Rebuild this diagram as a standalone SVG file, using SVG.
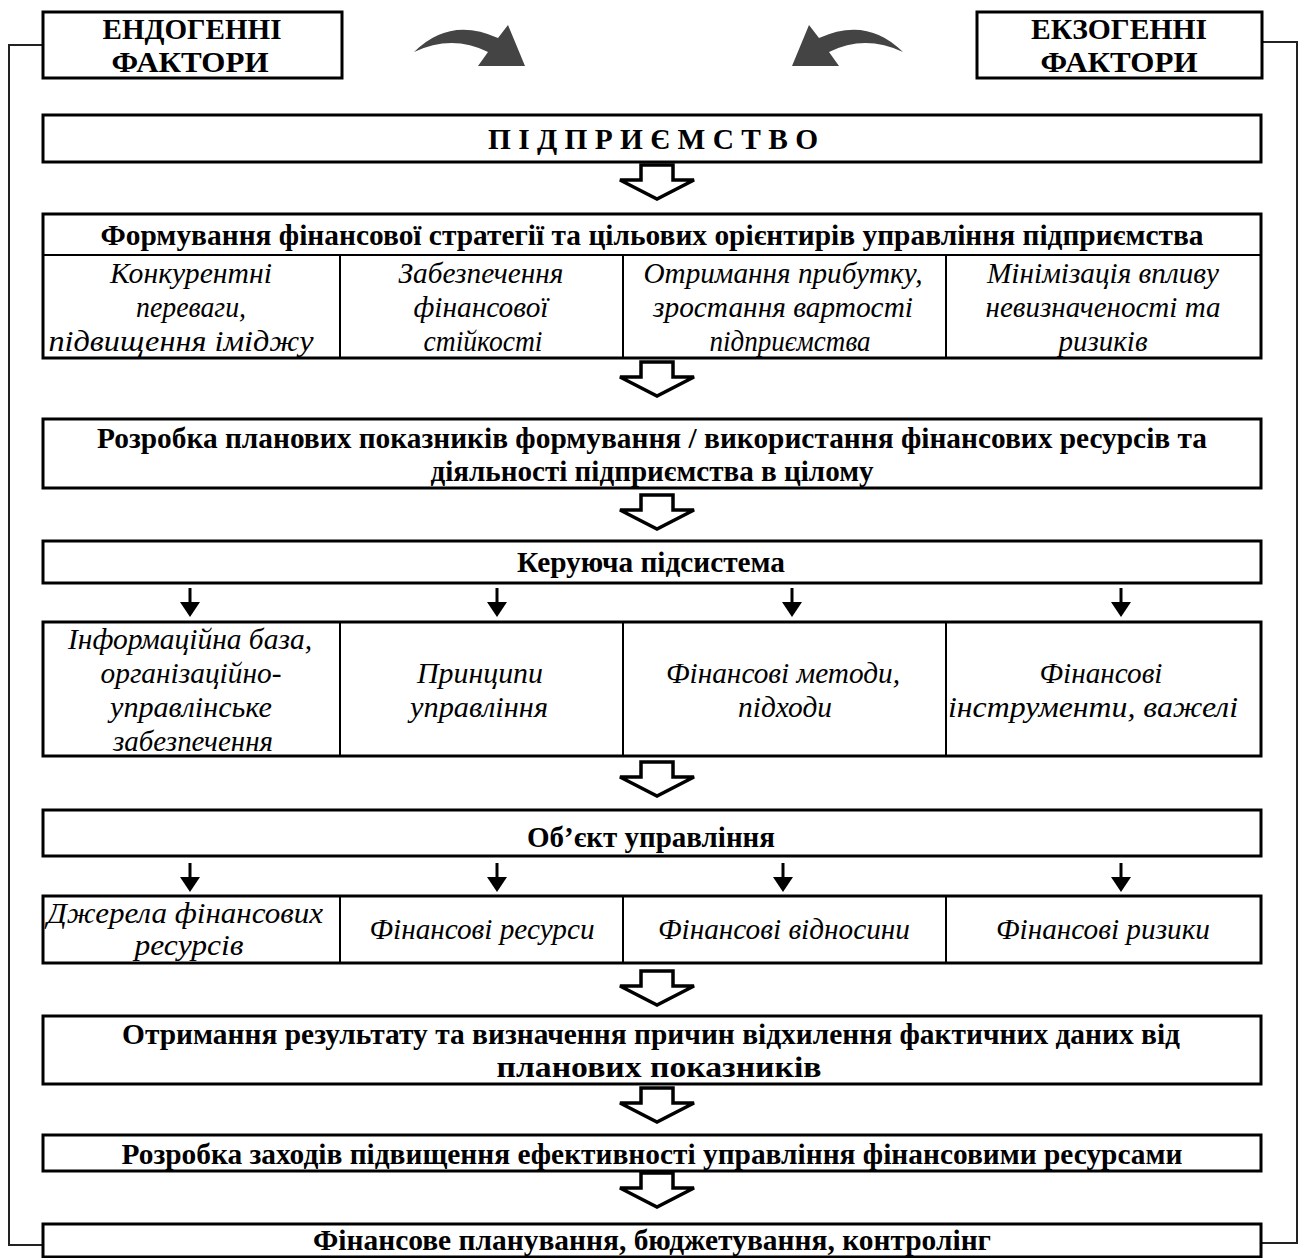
<svg xmlns="http://www.w3.org/2000/svg" width="1304" height="1258" viewBox="0 0 1304 1258">
<style>
  .box { fill: #fff; stroke: #000; stroke-width: 3; }
  .sep { stroke: #000; stroke-width: 2; fill: none; }
  .fb { stroke: #222; stroke-width: 2; fill: none; }
  .b { font-family: "Liberation Serif", "Times New Roman", serif; font-size: 29px; font-weight: bold; text-anchor: middle; fill: #000; }
  .i { font-family: "Liberation Serif", "Times New Roman", serif; font-size: 30px; font-style: italic; text-anchor: middle; fill: #000; }
  .ha { fill: #fff; stroke: #000; stroke-width: 3.5; stroke-linejoin: miter; }
  .sa { fill: #000; stroke: none; }
  .sl { stroke: #000; stroke-width: 3; }
  .curv { fill: #444; }
</style>
<defs>
  <path id="hollow" class="ha" d="M-16,-34 H16 V-19 H37 L0,0 L-37,-19 H-16 Z"/>
  <g id="small">
    <line class="sl" x1="0" y1="-29" x2="0" y2="-12"/>
    <path class="sa" d="M-10,-15 L10,-15 L0,0 Z"/>
  </g>
  <path id="curve" class="curv" d="M414,52 Q450,16 498,38 L508,25 L525,66 L478,66 L488,52 Q452,34 414,52 Z"/>
</defs>

<g id="connectors">
  <polyline class="fb" points="43,45 9,45 9,1245 43,1245"/>
  <polyline class="fb" points="1262,42 1297,42 1297,1243 1261,1243"/>
  <use href="#curve"/>
  <use href="#curve" transform="translate(1317,0) scale(-1,1)"/>
  <use href="#hollow" x="657" y="199"/>
  <use href="#hollow" x="657" y="396"/>
  <use href="#hollow" x="657" y="529"/>
  <use href="#hollow" x="657" y="796"/>
  <use href="#hollow" x="657" y="1005"/>
  <use href="#hollow" x="657" y="1122"/>
  <use href="#hollow" x="657" y="1207"/>
  <use href="#small" x="190" y="617"/>
  <use href="#small" x="497" y="617"/>
  <use href="#small" x="792" y="617"/>
  <use href="#small" x="1121" y="617"/>
  <use href="#small" x="190" y="892"/>
  <use href="#small" x="497" y="892"/>
  <use href="#small" x="783" y="892"/>
  <use href="#small" x="1121" y="892"/>
</g>

<g id="endo">
  <rect class="box" x="43" y="12" width="299" height="66"/>
  <text class="b" x="192" y="39" textLength="179" lengthAdjust="spacingAndGlyphs">ЕНДОГЕННІ</text>
  <text class="b" x="190" y="72" textLength="157" lengthAdjust="spacingAndGlyphs">ФАКТОРИ</text>
</g>

<g id="exo">
  <rect class="box" x="977" y="12" width="285" height="66"/>
  <text class="b" x="1119" y="39" textLength="176" lengthAdjust="spacingAndGlyphs">ЕКЗОГЕННІ</text>
  <text class="b" x="1119" y="72" textLength="157" lengthAdjust="spacingAndGlyphs">ФАКТОРИ</text>
</g>

<g id="enterprise">
  <rect class="box" x="43" y="115" width="1218" height="47"/>
  <text class="b" x="653" y="149" textLength="330" lengthAdjust="spacingAndGlyphs">П І Д П Р И Є М С Т В О</text>
</g>

<g id="strategy">
  <rect class="box" x="43" y="214" width="1218" height="144"/>
  <line class="sep" x1="43" y1="255" x2="1261" y2="255"/>
  <line class="sep" x1="340" y1="255" x2="340" y2="358"/>
  <line class="sep" x1="623" y1="255" x2="623" y2="358"/>
  <line class="sep" x1="946" y1="255" x2="946" y2="358"/>
  <text class="b" x="652" y="245" textLength="1103" lengthAdjust="spacingAndGlyphs">Формування фінансової стратегії та цільових орієнтирів управління підприємства</text>
  <text class="i" x="191" y="283" textLength="162" lengthAdjust="spacingAndGlyphs">Конкурентні</text>
  <text class="i" x="191" y="317" textLength="110" lengthAdjust="spacingAndGlyphs">переваги,</text>
  <text class="i" x="181" y="351" textLength="265" lengthAdjust="spacingAndGlyphs">підвищення іміджу</text>
  <text class="i" x="481" y="283" textLength="165" lengthAdjust="spacingAndGlyphs">Забезпечення</text>
  <text class="i" x="481" y="317" textLength="135" lengthAdjust="spacingAndGlyphs">фінансової</text>
  <text class="i" x="483" y="351" textLength="119" lengthAdjust="spacingAndGlyphs">стійкості</text>
  <text class="i" x="783" y="283" textLength="279" lengthAdjust="spacingAndGlyphs">Отримання прибутку,</text>
  <text class="i" x="783" y="317" textLength="260" lengthAdjust="spacingAndGlyphs">зростання вартості</text>
  <text class="i" x="790" y="351" textLength="161" lengthAdjust="spacingAndGlyphs">підприємства</text>
  <text class="i" x="1103" y="283" textLength="232" lengthAdjust="spacingAndGlyphs">Мінімізація впливу</text>
  <text class="i" x="1103" y="317" textLength="235" lengthAdjust="spacingAndGlyphs">невизначеності та</text>
  <text class="i" x="1103" y="351" textLength="89" lengthAdjust="spacingAndGlyphs">ризиків</text>
</g>

<g id="planning">
  <rect class="box" x="43" y="419" width="1218" height="69"/>
  <text class="b" x="652" y="448" textLength="1110" lengthAdjust="spacingAndGlyphs">Розробка планових показників формування / використання фінансових ресурсів та</text>
  <text class="b" x="652" y="481" textLength="443" lengthAdjust="spacingAndGlyphs">діяльності підприємства в цілому</text>
</g>

<g id="control">
  <rect class="box" x="43" y="541" width="1218" height="42"/>
  <text class="b" x="651" y="572" textLength="268" lengthAdjust="spacingAndGlyphs">Керуюча підсистема</text>
</g>

<g id="control-parts">
  <rect class="box" x="43" y="622" width="1218" height="134"/>
  <line class="sep" x1="340" y1="622" x2="340" y2="756"/>
  <line class="sep" x1="623" y1="622" x2="623" y2="756"/>
  <line class="sep" x1="946" y1="622" x2="946" y2="756"/>
  <text class="i" x="190" y="649" textLength="244" lengthAdjust="spacingAndGlyphs">Інформаційна база,</text>
  <text class="i" x="191" y="683" textLength="181" lengthAdjust="spacingAndGlyphs">організаційно-</text>
  <text class="i" x="191" y="717" textLength="162" lengthAdjust="spacingAndGlyphs">управлінське</text>
  <text class="i" x="193" y="751" textLength="160" lengthAdjust="spacingAndGlyphs">забезпечення</text>
  <text class="i" x="480" y="683" textLength="126" lengthAdjust="spacingAndGlyphs">Принципи</text>
  <text class="i" x="479" y="717" textLength="138" lengthAdjust="spacingAndGlyphs">управління</text>
  <text class="i" x="783" y="683" textLength="234" lengthAdjust="spacingAndGlyphs">Фінансові методи,</text>
  <text class="i" x="785" y="717" textLength="94" lengthAdjust="spacingAndGlyphs">підходи</text>
  <text class="i" x="1101" y="683" textLength="123" lengthAdjust="spacingAndGlyphs">Фінансові</text>
  <text class="i" x="1093" y="717" textLength="290" lengthAdjust="spacingAndGlyphs">інструменти, важелі</text>
</g>

<g id="object">
  <rect class="box" x="43" y="810" width="1218" height="46"/>
  <text class="b" x="651" y="847" textLength="248" lengthAdjust="spacingAndGlyphs">Об’єкт управління</text>
</g>

<g id="object-parts">
  <rect class="box" x="43" y="896" width="1218" height="67"/>
  <line class="sep" x1="340" y1="896" x2="340" y2="963"/>
  <line class="sep" x1="623" y1="896" x2="623" y2="963"/>
  <line class="sep" x1="946" y1="896" x2="946" y2="963"/>
  <text class="i" x="185" y="923" textLength="276" lengthAdjust="spacingAndGlyphs">Джерела фінансових</text>
  <text class="i" x="189" y="955" textLength="109" lengthAdjust="spacingAndGlyphs">ресурсів</text>
  <text class="i" x="482" y="939" textLength="225" lengthAdjust="spacingAndGlyphs">Фінансові ресурси</text>
  <text class="i" x="784" y="939" textLength="252" lengthAdjust="spacingAndGlyphs">Фінансові відносини</text>
  <text class="i" x="1103" y="939" textLength="214" lengthAdjust="spacingAndGlyphs">Фінансові ризики</text>
</g>

<g id="result">
  <rect class="box" x="43" y="1016" width="1218" height="68"/>
  <text class="b" x="651" y="1044" textLength="1058" lengthAdjust="spacingAndGlyphs">Отримання результату та визначення причин відхилення фактичних даних від</text>
  <text class="b" x="659" y="1077" textLength="325" lengthAdjust="spacingAndGlyphs">планових показників</text>
</g>

<g id="measures">
  <rect class="box" x="43" y="1135" width="1218" height="36"/>
  <text class="b" x="652" y="1164" textLength="1061" lengthAdjust="spacingAndGlyphs">Розробка заходів підвищення ефективності управління фінансовими ресурсами</text>
</g>

<g id="budgeting">
  <rect class="box" x="43" y="1224" width="1218" height="33"/>
  <text class="b" x="652" y="1250" textLength="678" lengthAdjust="spacingAndGlyphs">Фінансове планування, бюджетування, контролінг</text>
</g>
</svg>
